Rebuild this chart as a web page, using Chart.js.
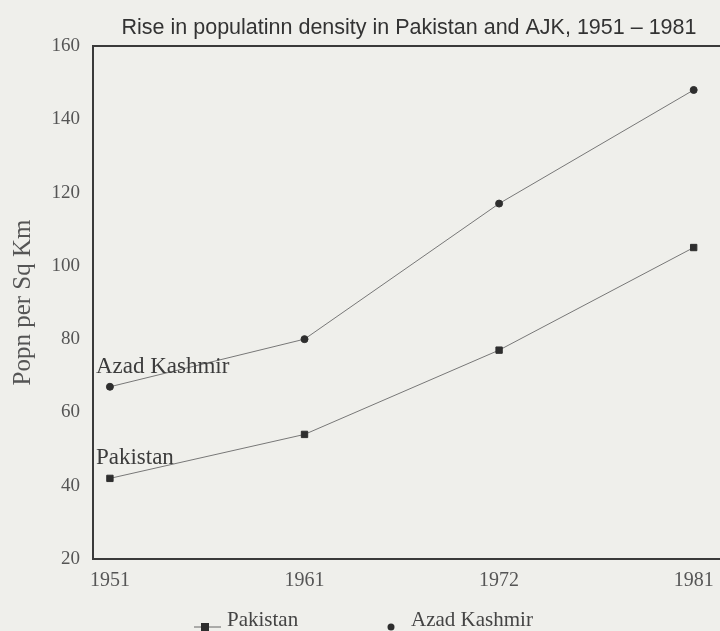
<!DOCTYPE html>
<html>
<head>
<meta charset="utf-8">
<script src="https://cdn.jsdelivr.net/npm/chart.js@4/dist/chart.umd.min.js"></script>
<style>
  html, body { margin: 0; padding: 0; background: #efefeb; }
  #wrap { width: 720px; height: 631px; }
</style>
</head>
<body>
<div id="wrap"><canvas id="myChart" width="720" height="631"></canvas></div>
<script>
// values
const years = ['1951', '1961', '1972', '1981']
const pakistan = [42, 54, 77, 105]
const azadKashmir = [67, 80, 117, 148]
const yTicks = [20, 40, 60, 80, 100, 120, 140, 160]
const chartTitle = 'Rise in populatinn density in Pakistan and AJK, 1951 – 1981'

const serif = '"Liberation Serif", "DejaVu Serif", serif'
const sans = '"Liberation Sans", Arial, sans-serif'

// title (sits right of centre in the scan), frame lines (right side runs
// off the page), series names beside the first points, legend under the axis
const framePlugin = {
  id: 'frame',
  afterDraw(chart) {
    const a = chart.chartArea, ctx = chart.ctx
    ctx.save()
    ctx.fillStyle = '#333'
    ctx.font = '21.5px ' + sans
    ctx.textAlign = 'center'
    ctx.textBaseline = 'middle'
    ctx.fillText(chartTitle, 409, 28)

    ctx.strokeStyle = '#3a3a3a'
    ctx.lineWidth = 2
    ctx.beginPath()
    ctx.moveTo(720, a.top)
    ctx.lineTo(a.left, a.top)
    ctx.lineTo(a.left, a.bottom)
    ctx.lineTo(720, a.bottom)
    ctx.stroke()

    ctx.fillStyle = '#3c3c3c'
    ctx.font = '23px ' + serif
    ctx.textAlign = 'left'
    ctx.textBaseline = 'alphabetic'
    chart.data.datasets.forEach((ds, i) => {
      const p = chart.getDatasetMeta(i).data[0]
      ctx.fillText(ds.label, p.x - 14, p.y - 14)
    })

    // legend
    const ly = 627
    ctx.strokeStyle = '#666'
    ctx.lineWidth = 1
    ctx.beginPath(); ctx.moveTo(194, ly); ctx.lineTo(221, ly); ctx.stroke()
    ctx.fillStyle = '#2e2e2e'
    ctx.fillRect(201, ly - 4, 8, 8)
    ctx.beginPath(); ctx.arc(391, ly, 3.5, 0, Math.PI * 2); ctx.fill()
    ctx.fillStyle = '#444'
    ctx.font = '21px ' + serif
    ctx.textBaseline = 'middle'
    ctx.fillText(chart.data.datasets[0].label, 227, 620)
    ctx.fillText(chart.data.datasets[1].label, 411, 620)
    ctx.restore()
  }
}

new Chart('myChart', {
  type: 'line',
  data: {
    datasets: [{
      label: 'Pakistan',
      data: pakistan.map((v, i) => ({ x: i, y: v })),
      borderColor: '#777',
      borderWidth: 1,
      pointStyle: 'rect',
      pointRadius: 4.5,
      pointBackgroundColor: '#2e2e2e',
      pointBorderColor: '#2e2e2e',
      tension: 0
    }, {
      label: 'Azad Kashmir',
      data: azadKashmir.map((v, i) => ({ x: i, y: v })),
      borderColor: '#777',
      borderWidth: 1,
      pointStyle: 'circle',
      pointRadius: 3.5,
      pointBackgroundColor: '#2e2e2e',
      pointBorderColor: '#2e2e2e',
      tension: 0
    }]
  },
  options: {
    responsive: false,
    animation: false,
    layout: { padding: { left: 0, right: 0, top: 46, bottom: 36 } },
    plugins: {
      title: { display: false },
      legend: { display: false },
      tooltip: { enabled: false }
    },
    scales: {
      x: {
        type: 'linear',
        min: -0.087,
        max: 3.107,
        grid: { display: false },
        border: { display: false },
        afterBuildTicks: s => { s.ticks = years.map((y, i) => ({ value: i })) },
        afterFit: s => { s.paddingLeft = 0; s.paddingRight = 0 },
        ticks: {
          color: '#555',
          font: { family: serif, size: 20 },
          padding: 2,
          callback: v => years[v]
        }
      },
      y: {
        min: 20,
        max: 160,
        grid: { display: false },
        border: { display: false },
        afterBuildTicks: s => { s.ticks = yTicks.map(v => ({ value: v })) },
        afterFit: s => { s.width = 93; s.paddingTop = 0; s.paddingBottom = 0 },
        ticks: {
          color: '#555',
          font: { family: serif, size: 19 },
          padding: 5
        },
        title: {
          display: true,
          text: 'Popn per Sq Km',
          color: '#555',
          font: { family: serif, size: 25 },
          padding: { top: 8, bottom: 0 }
        }
      }
    }
  },
  plugins: [framePlugin]
})
</script>
</body>
</html>
